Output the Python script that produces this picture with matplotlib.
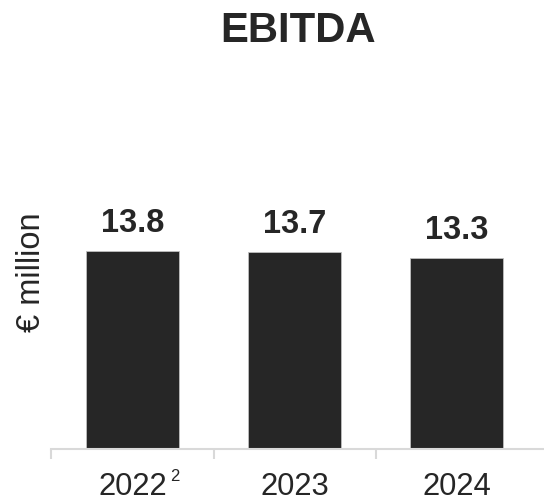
import matplotlib
matplotlib.use("Agg")
import matplotlib.pyplot as plt

categories = ["2022", "2023", "2024"]
values = [13.8, 13.7, 13.3]
value_labels = ["13.8", "13.7", "13.3"]
superscripts = ["2", "", ""]

TEXT = "#262626"
plt.rcParams["font.family"] = ["Liberation Sans", "DejaVu Sans"]

W, H = 544, 501
fig = plt.figure(figsize=(W / 100, H / 100), dpi=100)
ax = fig.add_axes([51.5 / W, (H - 449) / H, 1 - 51.5 / W, 299 / H])

x = list(range(len(categories)))
ax.bar(x, values, width=0.574, color="#262626", edgecolor="#bfbfbf", linewidth=0.6, zorder=2)
ax.set_xlim(-0.5, -0.5 + (W - 51.5) / 162)
ax.set_ylim(0, 20.8)

for xi, v, lab in zip(x, values, value_labels):
    ax.annotate(lab, xy=(xi, v), xytext=(0, 13.5), textcoords="offset points",
                ha="center", va="baseline", fontsize=23.5, fontweight="bold", color=TEXT)

for s in ["top", "right", "left"]:
    ax.spines[s].set_visible(False)
ax.spines["bottom"].set_color("#d9d9d9")
ax.spines["bottom"].set_linewidth(1.5)
ax.set_yticks([])
ax.set_xticks(x)
ax.set_xticklabels(categories, fontsize=22.3, color=TEXT)
ax.tick_params(axis="x", which="major", length=0, pad=16.5)
ax.set_xticks([-0.5, 0.5, 1.5], minor=True)
ax.tick_params(axis="x", which="minor", length=7.2, width=1.5, color="#d9d9d9", direction="out")

ticks = ax.xaxis.get_major_ticks()
for t, sup in zip(ticks, superscripts):
    if sup:
        ax.annotate(sup, xy=(1, 1), xycoords=t.label1, xytext=(2.2, 2), textcoords="offset points",
                    ha="left", va="top", fontsize=12, color=TEXT)

fig.text(31 / W, 1 - 272 / H, "€ million", rotation=90, ha="center", va="center",
         fontsize=23.5, color=TEXT)
fig.text(298 / W, 1 - 31 / H, "EBITDA", ha="center", va="center",
         fontsize=30.2, fontweight="bold", color=TEXT)

fig.savefig("out.png", dpi=100)
